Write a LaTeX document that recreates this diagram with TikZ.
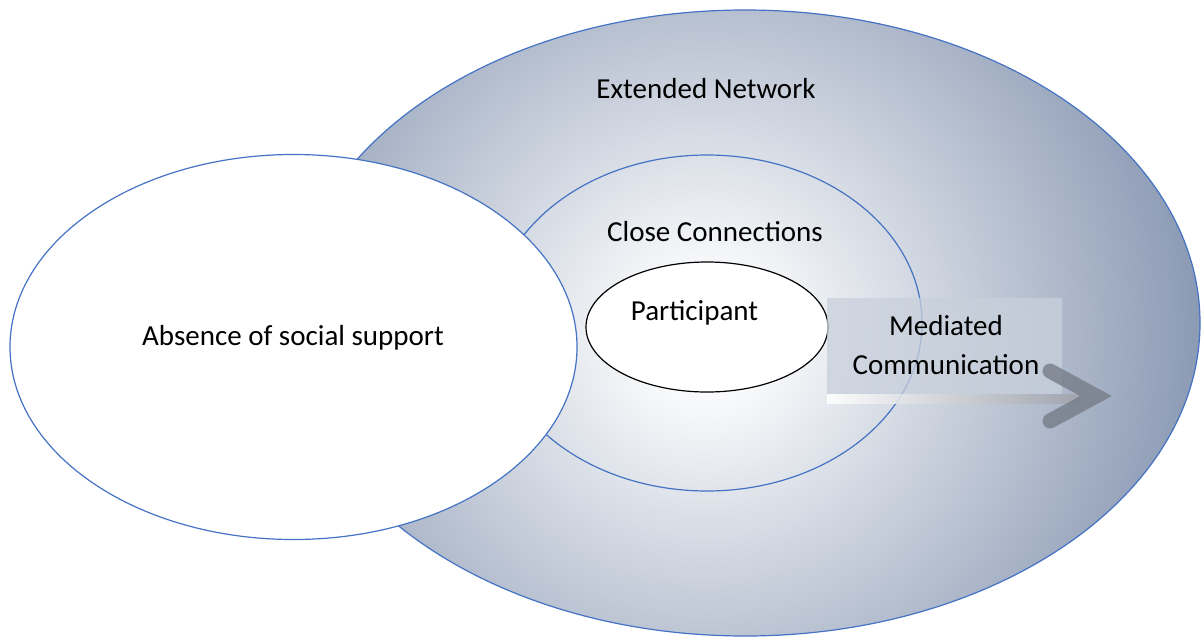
\documentclass[tikz,border=0pt]{standalone}
\usepackage{fontspec}
\setmainfont{Carlito}
\usetikzlibrary{shapes.geometric}
\definecolor{rimblue}{RGB}{68,114,196}
\definecolor{netblue}{RGB}{138,153,179}
\definecolor{boxfill}{RGB}{200,208,220}
\definecolor{arrowgray}{RGB}{118,124,136}
% circular fade: white around the participant, grey-blue further out
\pgfdeclareradialshading{netshade}{\pgfpoint{0bp}{0bp}}{%
  color(0bp)=(white); color(2bp)=(white);
  color(25bp)=(netblue); color(50bp)=(netblue)}
\tikzset{
  ring/.style={ellipse, draw=rimblue, line width=0.6pt, inner sep=0pt},
  lbl/.style={anchor=base, font=\fontsize{14.5}{19.5}\selectfont, inner sep=0pt},
}
\begin{document}
\begin{tikzpicture}[x=0.5pt, y=-0.5pt]
\useasboundingbox (0,0) rectangle (1202,637);
% outer ring fill: extended network
\begin{scope}
  \clip (745,323) ellipse [x radius=227.5pt, y radius=156.5pt];
  \shade[shading=netshade] (705,335) circle [radius=250pt];
\end{scope}
\node[ring, minimum width=455pt, minimum height=313pt] (net) at (745,323) {};
% middle ring: close connections
\node[ring, minimum width=215pt, minimum height=168pt] (close) at (707,323) {};
% left ellipse: absence of support
\node[ring, fill=white, minimum width=283.5pt, minimum height=192.5pt] (absent) at (293.5,347) {};
% centre: participant
\node[ellipse, draw=black, line width=0.6pt, fill=white, inner sep=0pt, minimum width=121pt, minimum height=65pt] (part) at (707,327) {};
% mediated communication label box
\path[fill=boxfill, fill opacity=0.75] (827,298) rectangle (1062,394);
\coordinate (shaftA) at (827,394);
\coordinate (shaftB) at (1080,403);
\shade[left color=white, right color=arrowgray!70!white, opacity=0.9] (shaftA) rectangle (shaftB);
% arrow head
\coordinate (armU) at (1050,371);
\coordinate (tip) at (1096,396);
\coordinate (armL) at (1050,421);
\draw[arrowgray, draw opacity=0.8, line width=7.5pt, line cap=round, line join=miter] (armU) -- (tip) -- (armL);
% labels
\node[lbl] (tnet) at (706,98) {Extended Network};
\node[lbl] (tclose) at (715,241) {Close Connections};
\node[lbl] (tpart) at (694.5,320.5) {Participant};
\node[lbl] (tabs) at (293,345) {Absence of social support};
\node[lbl] (tmed1) at (946,335) {Mediated};
\node[lbl] (tmed2) at (946,374) {Communication};
\end{tikzpicture}
\end{document}
